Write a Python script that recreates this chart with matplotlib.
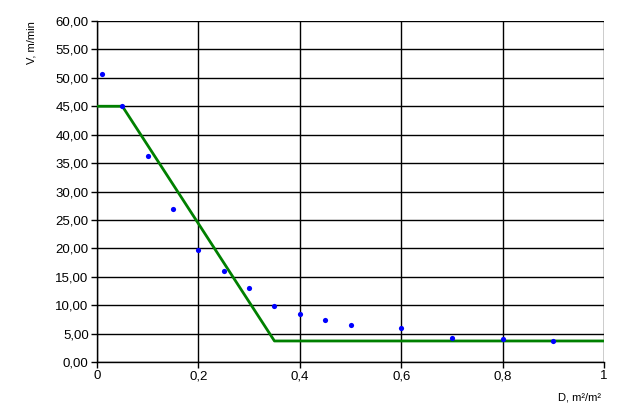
import matplotlib
matplotlib.use("Agg")
import matplotlib.pyplot as plt
from matplotlib.ticker import FuncFormatter, MultipleLocator

# data
pts_x = [0.01, 0.05, 0.10, 0.15, 0.20, 0.25, 0.30, 0.35, 0.40, 0.45, 0.50, 0.60, 0.70, 0.80, 0.90]
pts_y = [50.6, 45.1, 36.2, 26.9, 19.7, 16.0, 13.0, 9.9, 8.5, 7.4, 6.5, 6.0, 4.3, 4.0, 3.7]
line_x = [0.0, 0.05, 0.35, 1.0]
line_y = [45.0, 45.0, 3.7, 3.7]

plt.rcParams['font.family'] = ['Liberation Sans', 'DejaVu Sans']
fig = plt.figure(figsize=(6.3, 4.2), dpi=100)
ax = fig.add_axes([97/630, 58/420, (604-97)/630, (362-21)/420])

ax.plot(line_x, line_y, color='#008000', lw=2, zorder=3)
ax.scatter(pts_x, pts_y, s=14, color='#0000ff', zorder=4, linewidths=0)

ax.set_xlim(0, 1)
ax.set_ylim(0, 60)
ax.xaxis.set_major_locator(MultipleLocator(0.2))
ax.yaxis.set_major_locator(MultipleLocator(5))
ax.xaxis.set_major_formatter(FuncFormatter(lambda v, p: ('%g' % round(v, 1)).replace('.', ',')))
ax.yaxis.set_major_formatter(FuncFormatter(lambda v, p: ('%.2f' % v).replace('.', ',')))
ax.grid(True, color='black', lw=1)
ax.set_axisbelow(True)
for s in ['top', 'right']:
    ax.spines[s].set_visible(False)
for s in ['left', 'bottom']:
    ax.spines[s].set_linewidth(1)
ax.tick_params(axis='both', length=4, width=1, labelsize=9.5, pad=2, colors='black')

fig.text(31/630, 1 - 43/420, 'V, m/min', rotation=90, ha='center', va='center', fontsize=8)
fig.text(580/630, 1 - 397/420, 'D, m²/m²', ha='center', va='center', fontsize=8)

fig.savefig('out.png', dpi=100)
